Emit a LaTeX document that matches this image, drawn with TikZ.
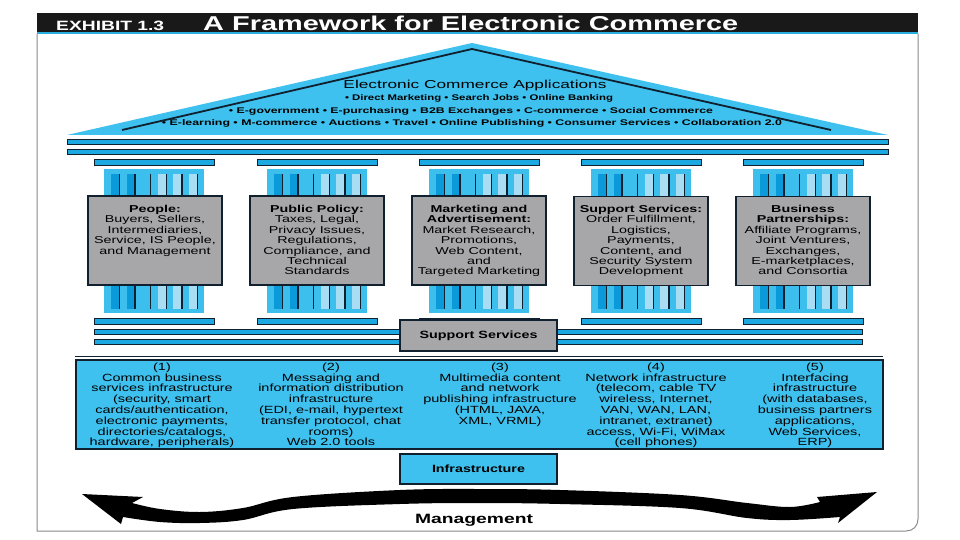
\documentclass[tikz,border=0pt]{standalone}
\usepackage{fontspec}
\setmainfont{Liberation Sans}
\usepackage{graphicx}
\definecolor{roofblue}{HTML}{3EC1EE}
\definecolor{barblue}{HTML}{1CA9E1}
\definecolor{shaftblue}{HTML}{3DBFEE}
\definecolor{darkstripe}{HTML}{0A9AD9}
\definecolor{lightstripe}{HTML}{A8DDF4}
\definecolor{navy}{HTML}{10202E}
\definecolor{boxgray}{HTML}{A7A7A9}
\definecolor{framegray}{HTML}{8A8A8A}
\definecolor{hdrblue}{HTML}{2AAEE0}
\newcommand{\stk}[2]{\scalebox{#1}[1]{\begin{tabular}{@{}c@{}}#2\end{tabular}}}
\newcommand{\fw}[2]{\resizebox{#1}{\height}{#2}}
\begin{document}
\begin{tikzpicture}[x=1pt,y=-1pt,
  bar/.style={fill=barblue,draw=navy,line width=0.7pt},
  gbox/.style={fill=boxgray,draw=navy,line width=1.3pt,inner sep=0pt},
  ibox/.style={fill=roofblue,draw=navy,line width=1.5pt,inner sep=0pt},
  coltext/.style={anchor=north,inner sep=0pt,font=\fontsize{10}{10.4}\selectfont},
  inftext/.style={anchor=north,inner sep=0pt,font=\fontsize{10.4}{10.8}\selectfont},
  rooftext/.style={inner sep=0pt,anchor=base,font=\fontsize{8.2}{8.5}\selectfont\bfseries},
  lbl/.style={inner sep=0pt,font=\fontsize{10.5}{11}\selectfont\bfseries}]
\useasboundingbox (0,0) rectangle (960,540);
\fill[white] (0,0) rectangle (960,540);
% header
\fill[black!90] (37,13) rectangle (918,32);
\fill[hdrblue] (37,32) rectangle (918,34);
\node[anchor=base west,inner sep=0,text=white,font=\fontsize{13.5}{14}\selectfont\bfseries] (exh) at (56,31) {\fw{108pt}{EXHIBIT 1.3}};
\node[anchor=base west,inner sep=0,text=white,font=\fontsize{20}{21}\selectfont\bfseries] (ttl) at (203,31) {\fw{535pt}{A Framework for Electronic Commerce}};
% frame
\draw[framegray,line width=1pt] (37,34) -- (37,531) -- (906,531) .. controls (913,531) and (918,526) .. (918,519) -- (918,34);
% roof
\fill[roofblue] (67,135) -- (472,43) -- (888,135) -- cycle;
\draw[navy,line width=1.8pt] (122,130) -- (472,49) -- (831,130);
\node[inner sep=0,anchor=base,font=\fontsize{11.5}{12}\selectfont] (r1) at (475,89) {\fw{263pt}{Electronic Commerce Applications}};
\node[rooftext] (r2) at (479,101) {\fw{268pt}{• Direct Marketing • Search Jobs • Online Banking}};
\node[rooftext] (r3) at (471,114) {\fw{484pt}{• E-government • E-purchasing • B2B Exchanges • C-commerce • Social Commerce}};
\node[rooftext] (r4) at (472,126) {\fw{620pt}{• E-learning • M-commerce • Auctions • Travel • Online Publishing • Consumer Services • Collaboration 2.0}};
% entablature
\draw[bar] (67,139) rectangle (888,144);
\draw[bar] (67,149) rectangle (888,154);
% columns
\foreach \c in {154,317,479,641,803}{
  \draw[bar] ({\c-60},159) rectangle ({\c+60},165);
  \fill[shaftblue] ({\c-50},169) rectangle ({\c+50},313);
  \foreach \i/\col in {0/darkstripe,1/darkstripe,2/shaftblue,3/lightstripe,4/lightstripe,5/lightstripe}{
    \fill[\col] ({\c-43+15.6*\i},174) rectangle ({\c-35+15.6*\i},309);
    \draw[navy,line width=1.5pt] ({\c-34.5+15.6*\i},174) -- ({\c-34.5+15.6*\i},309);
  }
  \draw[bar] ({\c-60},318) rectangle ({\c+60},324);
}
\node[gbox,minimum width=134pt,minimum height=89pt] (b1) at (155,240.5) {};
\node[gbox,minimum width=134pt,minimum height=89pt] (b2) at (317,240.5) {};
\node[gbox,minimum width=134pt,minimum height=89pt] (b3) at (479,240.5) {};
\node[gbox,minimum width=134pt,minimum height=89pt] (b4) at (641,241) {};
\node[gbox,minimum width=134pt,minimum height=89pt] (b5) at (803,241) {};
\node[coltext] (t1) at (155,205) {\stk{1.43}{\textbf{People:}\\Buyers, Sellers,\\Intermediaries,\\Service, IS People,\\and Management}};
\node[coltext] (t2) at (317,205) {\stk{1.43}{\textbf{Public Policy:}\\Taxes, Legal,\\Privacy Issues,\\Regulations,\\Compliance, and\\Technical\\Standards}};
\node[coltext] (t3) at (479,205) {\stk{1.43}{\textbf{Marketing and}\\\textbf{Advertisement:}\\Market Research,\\Promotions,\\Web Content,\\and\\Targeted Marketing}};
\node[coltext] (t4) at (641,205) {\stk{1.43}{\textbf{Support Services:}\\Order Fulfillment,\\Logistics,\\Payments,\\Content, and\\Security System\\Development}};
\node[coltext] (t5) at (803,205) {\stk{1.43}{\textbf{Business}\\\textbf{Partnerships:}\\Affiliate Programs,\\Joint Ventures,\\Exchanges,\\E-marketplaces,\\and Consortia}};
% base
\draw[bar] (94,329) rectangle (862,334);
\draw[bar] (94,339) rectangle (862,344);
\node[gbox,minimum width=157pt,minimum height=31pt] (sup) at (478.5,335.5) {};
\node[lbl] (suplbl) at (sup.center) {\fw{118pt}{Support Services}};
\draw[navy,line width=1pt] (75,356) -- (883,356);
% infrastructure
\node[ibox,minimum width=807pt,minimum height=89pt] (inf) at (479.5,404.5) {};
\node[inftext] (i1) at (162,362.5) {\stk{1.39}{(1)\\Common business\\services infrastructure\\(security, smart\\cards/authentication,\\electronic payments,\\directories/catalogs,\\hardware, peripherals)}};
\node[inftext] (i2) at (331,362.5) {\stk{1.39}{(2)\\Messaging and\\information distribution\\infrastructure\\(EDI, e-mail, hypertext\\transfer protocol, chat\\rooms)\\Web 2.0 tools}};
\node[inftext] (i3) at (500,362.5) {\stk{1.39}{(3)\\Multimedia content\\and network\\publishing infrastructure\\(HTML, JAVA,\\XML, VRML)}};
\node[inftext] (i4) at (656,362.5) {\stk{1.39}{(4)\\Network infrastructure\\(telecom, cable TV\\wireless, Internet,\\VAN, WAN, LAN,\\intranet, extranet)\\access, Wi-Fi, WiMax\\(cell phones)}};
\node[inftext] (i5) at (815,362.5) {\stk{1.39}{(5)\\Interfacing\\infrastructure\\(with databases,\\business partners\\applications,\\Web Services,\\ERP)}};
\node[ibox,minimum width=157pt,minimum height=30pt] (infra) at (478.5,469) {};
\node[lbl] (infralbl) at (infra.center) {\fw{93pt}{Infrastructure}};
% management arrow
\fill[black] (82,494) -- (143,497) -- (132,503)
  -- plot[smooth,tension=0.6] coordinates {(132,503) (160,509) (200,512) (243,508) (293,497) (400,490) (480,489) (560,490) (680,495) (747,503) (790,507) (820,502)}
  -- (817,497) -- (877,492) -- (838,523) -- (840,517)
  -- plot[smooth,tension=0.6] coordinates {(840,517) (790,520) (747,518) (680,508) (560,504) (480,503) (400,504) (293,509) (243,520) (200,523) (160,522) (123,517)}
  -- (121,524) -- cycle;
\node[inner sep=0,anchor=base,font=\fontsize{13.5}{14}\selectfont\bfseries] (mgmt) at (474,523) {\fw{118pt}{Management}};
\end{tikzpicture}
\end{document}
